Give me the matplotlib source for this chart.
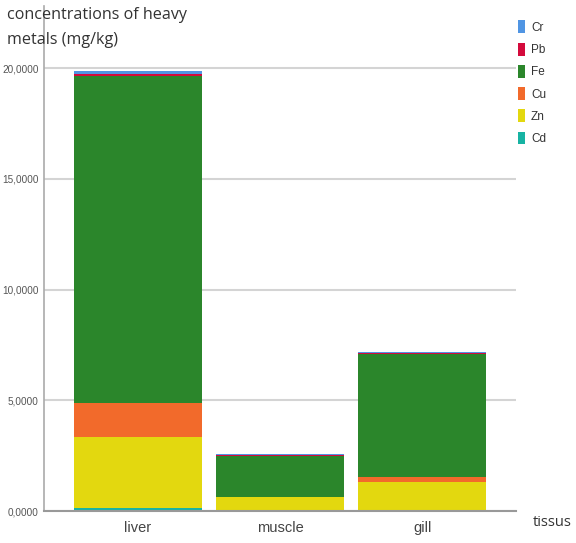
import numpy as np
import matplotlib
matplotlib.use("Agg")
import matplotlib.pyplot as plt
from matplotlib.patches import Patch

# concentrations per tissue (mg/kg), stacked bottom to top
tissues = ["liver", "muscle", "gill"]
cd = [0.13, 0.01, 0.02]
zn = [3.20, 0.62, 1.30]
cu = [1.53, 0.02, 0.20]
fe = [14.78, 1.83, 5.58]
pb = [0.09, 0.03, 0.03]
cr = [0.13, 0.06, 0.03]

metals = ["Cd", "Zn", "Cu", "Fe", "Pb", "Cr"]
series = [cd, zn, cu, fe, pb, cr]
colors = ["#17b3a3", "#e3d80f", "#f26a2b", "#2b862b", "#d40a3c", "#5095e3"]

y_ticks = [0, 5, 10, 15, 20]

narrow = ["Liberation Sans", "DejaVu Sans"]

fig = plt.figure(figsize=(5.76, 5.43), dpi=100)
ax = fig.add_axes([0.0764, 0.0589, 0.8196, 0.93])

x = np.arange(len(tissues))
bottom = np.zeros(len(tissues))
for name, vals, col in zip(metals, series, colors):
    ax.bar(x, vals, width=0.9, bottom=bottom, color=col, label=name, zorder=3)
    bottom += np.array(vals)

ax.set_xlim(-0.66, 2.66)
ax.set_ylim(0, 22.8)
ax.set_yticks(y_ticks)
ax.set_yticklabels([f"{v:.4f}".replace(".", ",") for v in y_ticks],
                   fontsize=7.2, color="#555555", family=narrow)
ax.set_xticks(x)
ax.set_xticklabels(tissues, fontsize=10.5, color="#444444", family=narrow)
ax.tick_params(axis="both", length=0, pad=4)
ax.tick_params(axis="x", pad=7)

ax.grid(axis="y", color="#d4d4d4", linewidth=1.5, zorder=0)
for s in ["top", "right"]:
    ax.spines[s].set_visible(False)
ax.spines["left"].set_color("#aaaaaa")
ax.spines["left"].set_linewidth(1.2)
ax.spines["bottom"].set_color("#999999")
ax.spines["bottom"].set_linewidth(1.5)
ax.spines["bottom"].set_zorder(4)

# legend top to bottom: Cr ... Cd
handles = [Patch(facecolor=c, edgecolor="none", label=m)
           for m, c in zip(metals[::-1], colors[::-1])]
leg = fig.legend(handles=handles, loc="upper left", bbox_to_anchor=(0.88, 0.982),
                 frameon=False, handlelength=0.6, handleheight=1.3,
                 handletextpad=0.55, labelspacing=0.75,
                 prop={"family": narrow, "size": 8.5})
for t in leg.get_texts():
    t.set_color("#333333")

fig.text(0.012, 0.988, "concentrations of heavy\nmetals (mg/kg)",
         ha="left", va="top", fontsize=11.6, color="#333333",
         family="Open Sans", linespacing=1.75)
fig.text(0.925, 0.037, "tissus", ha="left", va="center",
         fontsize=10.5, color="#333333", family="Open Sans")

fig.savefig("out.png", dpi=100)
